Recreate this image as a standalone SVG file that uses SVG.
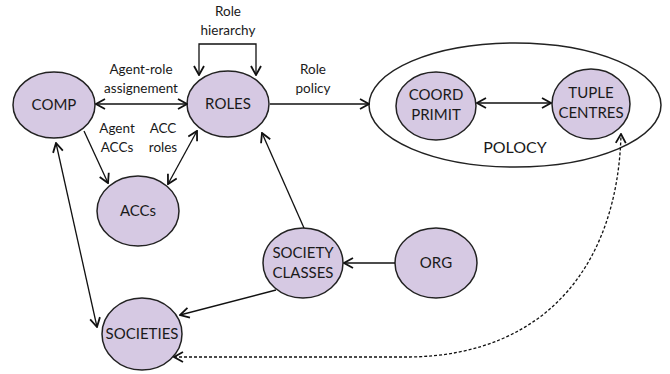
<svg xmlns="http://www.w3.org/2000/svg" width="670" height="374" viewBox="0 0 670 374">
<defs>
<marker id="arr" viewBox="0 0 12 12" refX="11" refY="6" markerWidth="12" markerHeight="12" markerUnits="userSpaceOnUse" orient="auto-start-reverse">
<path d="M2,1 L11,6 L2,11" fill="none" stroke="#111" stroke-width="1.8"/>
</marker>
</defs>
<style>
.n{fill:#d6c9e3;stroke:#222;stroke-width:1.5}
.t{font-family:Lato,"Open Sans",sans-serif;font-size:15px;fill:#1a1a1a;text-anchor:middle}
.l{font-family:Lato,"Open Sans",sans-serif;font-size:13.5px;fill:#1a1a1a;text-anchor:middle}
.c{fill:none;stroke:#111;stroke-width:1.3}
.d{fill:none;stroke:#111;stroke-width:1.3;stroke-dasharray:3,2}
</style>
<rect width="670" height="374" fill="#fff"/>
<g id="policy">
<ellipse cx="515" cy="105" rx="146" ry="62" fill="#fff" stroke="#222" stroke-width="1.5"/>
<text class="t" x="515" y="153" style="font-size:16px">POLOCY</text>
</g>
<g id="comp"><ellipse class="n" cx="54" cy="105" rx="41" ry="33"/><text class="t" x="54" y="110">COMP</text></g>
<g id="roles"><ellipse class="n" cx="228" cy="104" rx="41" ry="33"/><text class="t" x="228" y="109">ROLES</text></g>
<g id="accs"><ellipse class="n" cx="138" cy="211" rx="41" ry="35"/><text class="t" x="138" y="216">ACCs</text></g>
<g id="societies"><ellipse class="n" cx="142" cy="334" rx="40" ry="36"/><text class="t" x="142" y="339">SOCIETIES</text></g>
<g id="society-classes"><ellipse class="n" cx="303" cy="263" rx="40" ry="35"/><text class="t" x="303" y="258">SOCIETY</text><text class="t" x="303" y="278">CLASSES</text></g>
<g id="org"><ellipse class="n" cx="436" cy="263" rx="41" ry="35"/><text class="t" x="436" y="268">ORG</text></g>
<g id="coord-primit"><ellipse class="n" cx="436" cy="106" rx="40" ry="34"/><text class="t" x="436" y="100">COORD</text><text class="t" x="436" y="120">PRIMIT</text></g>
<g id="tuple-centres"><ellipse class="n" cx="591" cy="104" rx="39" ry="35"/><text class="t" x="591" y="98">TUPLE</text><text class="t" x="591" y="118">CENTRES</text></g>
<g id="connectors">
<path class="c" d="M96,104 L187,104" marker-start="url(#arr)" marker-end="url(#arr)"/>
<path class="c" d="M199,75 L199,44 L256,44 L256,75" marker-start="url(#arr)" marker-end="url(#arr)"/>
<path class="c" d="M270,104 L369,104" marker-end="url(#arr)"/>
<path class="c" d="M84,131 L108,183" marker-end="url(#arr)"/>
<path class="c" d="M197,131 L168,184" marker-start="url(#arr)" marker-end="url(#arr)"/>
<path class="c" d="M56,143 L97,327" marker-start="url(#arr)" marker-end="url(#arr)"/>
<path class="c" d="M304,228 L262,133" marker-end="url(#arr)"/>
<path class="c" d="M276,290 L180,315" marker-end="url(#arr)"/>
<path class="c" d="M395,263 L344,263" marker-end="url(#arr)"/>
<path class="c" d="M477,103 L551,103" marker-start="url(#arr)" marker-end="url(#arr)"/>
<path class="d" d="M174,357 L410,357 C550,355 618,260 621,134" marker-start="url(#arr)" marker-end="url(#arr)"/>
<text class="l" x="228" y="16">Role</text>
<text class="l" x="228" y="35">hierarchy</text>
<text class="l" x="141" y="74">Agent-role</text>
<text class="l" x="141" y="93">assignement</text>
<text class="l" x="313" y="74">Role</text>
<text class="l" x="313" y="93">policy</text>
<text class="l" x="117" y="133">Agent</text>
<text class="l" x="117" y="152">ACCs</text>
<text class="l" x="163" y="133">ACC</text>
<text class="l" x="163" y="152">roles</text>
</g>
</svg>
